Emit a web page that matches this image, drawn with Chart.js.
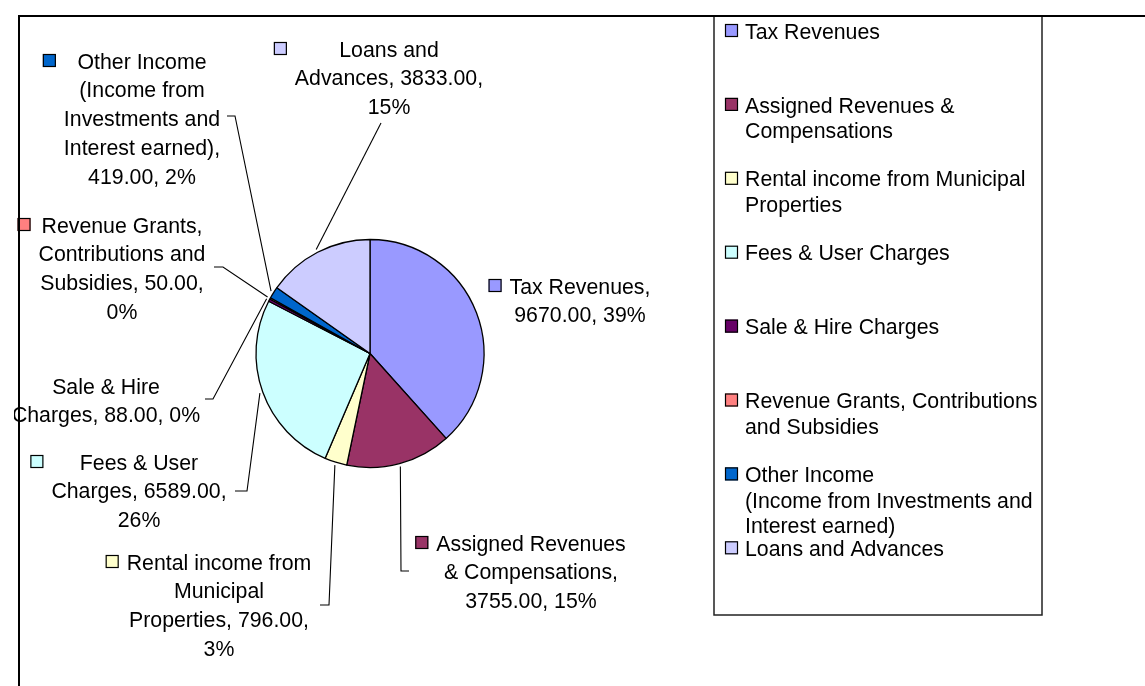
<!DOCTYPE html>
<html>
<head>
<meta charset="utf-8">
<script src="https://cdn.jsdelivr.net/npm/chart.js@4/dist/chart.umd.min.js"></script>
<style>
  html, body { margin: 0; padding: 0; background: #fff; }
  #c { display: block; }
</style>
</head>
<body>
<canvas id="c" width="1145" height="686"></canvas>
<script>
// ---------- DATA ----------
const categories = [
  "Tax Revenues",
  "Assigned Revenues & Compensations",
  "Rental income from Municipal Properties",
  "Fees & User Charges",
  "Sale & Hire Charges",
  "Revenue Grants, Contributions and Subsidies",
  "Other Income (Income from Investments and Interest earned)",
  "Loans and Advances"
];
const values = [9670, 3755, 796, 6589, 88, 50, 419, 3833];
const percentLabels = ["39%", "15%", "3%", "26%", "0%", "0%", "2%", "15%"];
const colors = ["#9999FF", "#993366", "#FFFFCC", "#CCFFFF", "#660066", "#FF8080", "#0066CC", "#CCCCFF"];

// words per line when wrapping data labels / legend entries
const labelWrap = [[2,2],[2,2,2],[3,1,2,1],[3,2,1],[3,3],[2,2,2,1],[2,2,2,2,2],[2,2,1]];
const legendWrap = [[2],[3,1],[4,1],[4],[4],[3,2],[2,4,2],[3]];

// ---------- LAYOUT ----------
const FONT = '21.3px "Liberation Sans", Arial, sans-serif';
const labelLayout = [
  { cx: 580, y: 286, leader: null },
  { cx: 531, y: 543, leader: [[401, 571], [409, 571]] },
  { cx: 219, y: 562, leader: [[329, 605], [320, 605]] },
  { cx: 139, y: 462, leader: [[247, 491], [235, 491]] },
  { cx: 106, y: 386, leader: [[213, 399], [205, 399]] },
  { cx: 122, y: 225, leader: [[223, 267], [214, 267]] },
  { cx: 142, y: 61,  leader: [[235, 116], [227, 116]] },
  { cx: 389, y: 49,  leader: [[381, 123]] }
];
const LABEL_LH = 28.8;
const LEGEND = { left: 714, top: 16, right: 1042, bottom: 615, keyX: 725, textX: 745, y0: 31, step: 73.9, lh: 25.5 };

function wrapWords(text, counts) {
  const words = text.split(' ');
  const out = []; let k = 0;
  counts.forEach(n => { out.push(words.slice(k, k + n).join(' ')); k += n; });
  if (k < words.length) out[out.length - 1] += ' ' + words.slice(k).join(' ');
  return out;
}
function labelText(i) {
  return categories[i] + ', ' + values[i].toFixed(2) + ', ' + percentLabels[i];
}
function key(ctx, x, y, color) {
  ctx.fillStyle = color;
  ctx.fillRect(x, y, 13, 13);
  ctx.strokeStyle = '#000';
  ctx.lineWidth = 1.2;
  ctx.strokeRect(x + 0.5, y + 0.5, 12, 12);
}

const decoPlugin = {
  id: 'deco',
  afterDraw(chart) {
    const ctx = chart.ctx;
    const arcs = chart.getDatasetMeta(0).data;
    ctx.save();
    // leader lines
    ctx.strokeStyle = '#000';
    ctx.lineWidth = 1.1;
    labelLayout.forEach((L, i) => {
      if (!L.leader) return;
      const a = arcs[i];
      const mid = (a.startAngle + a.endAngle) / 2;
      const r = a.outerRadius + 3;
      ctx.beginPath();
      ctx.moveTo(a.x + Math.cos(mid) * r, a.y + Math.sin(mid) * r);
      L.leader.forEach(p => ctx.lineTo(p[0], p[1]));
      ctx.stroke();
    });
    // data labels
    ctx.save();
    ctx.beginPath(); ctx.rect(14, 0, 1145, 686); ctx.clip();
    ctx.font = FONT;
    ctx.textBaseline = 'alphabetic';
    labelLayout.forEach((L, i) => {
      const lines = wrapWords(labelText(i), labelWrap[i]);
      const maxW = Math.max(...lines.map(s => ctx.measureText(s).width));
      const left = L.cx - maxW / 2;
      key(ctx, left - 21, L.y - 7, colors[i]);
      ctx.fillStyle = '#000';
      ctx.textAlign = 'center';
      lines.forEach((s, j) => ctx.fillText(s, L.cx, L.y + j * LABEL_LH + 7.6));
    });
    ctx.restore();
    // legend
    ctx.font = FONT;
    ctx.textAlign = 'left';
    ctx.textBaseline = 'alphabetic';
    categories.forEach((c, i) => {
      const y = LEGEND.y0 + i * LEGEND.step;
      key(ctx, LEGEND.keyX, y - 7, colors[i]);
      ctx.fillStyle = '#000';
      wrapWords(c, legendWrap[i]).forEach((s, j) => ctx.fillText(s, LEGEND.textX, y + j * LEGEND.lh + 7.6));
    });
    ctx.strokeStyle = '#222';
    ctx.lineWidth = 1.5;
    ctx.strokeRect(LEGEND.left, LEGEND.top, LEGEND.right - LEGEND.left, LEGEND.bottom - LEGEND.top);
    // outer frame
    ctx.strokeStyle = '#000';
    ctx.lineWidth = 2;
    ctx.beginPath();
    ctx.moveTo(19, 686); ctx.lineTo(19, 16); ctx.lineTo(1145, 16);
    ctx.stroke();
    ctx.restore();
  }
};

new Chart(document.getElementById('c'), {
  type: 'pie',
  data: {
    labels: categories,
    datasets: [{
      data: values,
      backgroundColor: colors,
      borderColor: '#000',
      borderWidth: 1.3
    }]
  },
  options: {
    responsive: false,
    animation: false,
    radius: 114,
    layout: { padding: { left: 250, right: 655, top: 233.5, bottom: 212.5 } },
    plugins: {
      legend: { display: false },
      tooltip: { enabled: false }
    }
  },
  plugins: [decoPlugin]
});
</script>
</body>
</html>
